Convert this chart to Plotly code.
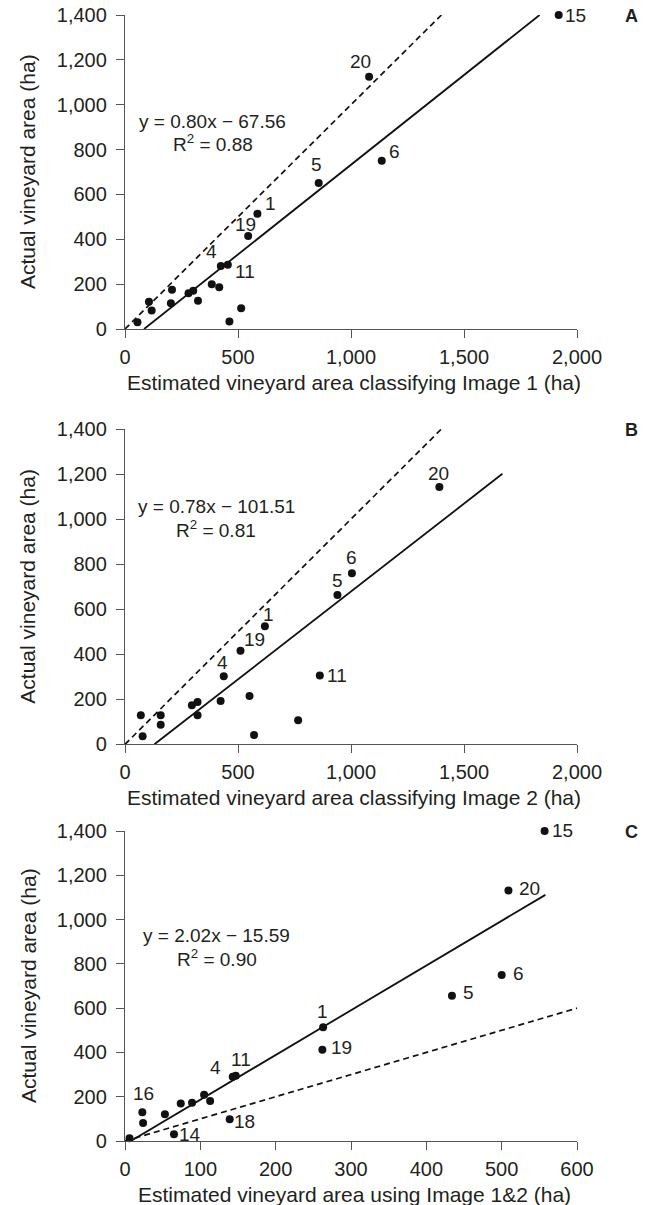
import plotly.graph_objects as go

W, H = 651, 1205

# ---------------- data ----------------
a_x = [55, 106, 118, 208, 203, 281, 302, 323, 384, 417, 424, 455, 462, 514, 545, 586, 857, 1080, 1136, 1919]
a_y = [30, 122, 83, 175, 115, 159, 171, 126, 200, 186, 281, 287, 33, 92, 415, 514, 651, 1125, 750, 1400]
a_lab = ["", "", "", "", "", "", "", "", "", "", "4", "11", "", "", "19", "1", "5", "20", "6", "15"]

b_x = [70, 78, 158, 158, 296, 321, 321, 423, 437, 551, 571, 511, 619, 766, 862, 940, 1004, 1391, 1673]
b_y = [129, 36, 129, 87, 173, 188, 129, 192, 302, 215, 41, 415, 524, 107, 305, 663, 760, 1142, 1405]
b_lab = ["", "", "", "", "", "", "", "", "4", "", "", "19", "1", "", "11", "5", "6", "20", "15"]

c_x = [6, 23, 24, 53, 74, 89, 105, 113, 65, 139, 143, 147, 263, 262, 434, 500, 509, 557]
c_y = [12, 130, 81, 121, 169, 173, 209, 181, 30, 98, 290, 295, 514, 412, 656, 750, 1131, 1400]
c_lab = ["", "16", "", "", "", "", "", "", "14", "18", "4", "11", "1", "19", "5", "6", "20", "15"]

# regression: slope, intercept
a_fit = (0.80, -67.56)
b_fit = (0.78, -101.51)
c_fit = (2.02, -15.59)
a_eq = ["y = 0.80x − 67.56", "R<sup>2</sup> = 0.88"]
b_eq = ["y = 0.78x − 101.51", "R<sup>2</sup> = 0.81"]
c_eq = ["y = 2.02x − 15.59", "R<sup>2</sup> = 0.90"]

x_ticks_ab = [0, 500, 1000, 1500, 2000]
x_ticks_c = [0, 100, 200, 300, 400, 500, 600]
y_ticks = [0, 200, 400, 600, 800, 1000, 1200, 1400]

x_titles = ["Estimated vineyard area classifying Image 1 (ha)",
            "Estimated vineyard area classifying Image 2 (ha)",
            "Estimated vineyard area using Image 1&2 (ha)"]
y_title = "Actual vineyard area (ha)"
panel_letters = ["A", "B", "C"]

# ---------------- style / layout ----------------
FONT = "Liberation Sans, Arial, Helvetica, sans-serif"
TXT = "#231f20"
AXC = "#555555"

# pixel label offsets (dx right, dy up) keyed by label text, per panel
a_off = {"4": (-9, 14), "11": (17, -7), "19": (-3, 11), "1": (13, 10), "5": (-2, 18),
         "20": (-9, 15), "6": (13, 9), "15": (17, -1)}
b_off = {"4": (-1, 14), "19": (14, 11), "1": (4, 12), "11": (17, 0), "5": (0, 14),
         "6": (0, 16), "20": (-1, 14), "15": (-2, 14)}
c_off = {"16": (1, 19), "14": (16, 0), "18": (15, -2), "4": (-17, 9), "11": (5, 16),
         "1": (-1, 16), "19": (19, 2), "5": (17, 3), "6": (17, 1), "20": (21, 2), "15": (18, 1)}

px_left, px_right = 125, 577
panels_px = [(15, 329), (429, 744.3), (831, 1141)]  # top, bottom in px
fit_end = [None, 1670, 558]


def py(p):
    return 1 - p / H


def pxx(p):
    return p / W


fig = go.Figure()
annotations = []

panels = [
    (a_x, a_y, a_lab, a_fit, a_eq, a_off, [0, 2000], x_ticks_ab, 1400, (389, 923, 829)),
    (b_x, b_y, b_lab, b_fit, b_eq, b_off, [0, 2000], x_ticks_ab, 1400, (403, 1056, 957)),
    (c_x, c_y, c_lab, c_fit, c_eq, c_off, [0, 600], x_ticks_c, 600, (122, 926, 825)),
]

for i, (xs, ys, labs, fit, eq, off, xr, xt, dash_end, eqpos) in enumerate(panels):
    n = "" if i == 0 else str(i + 1)
    xa, ya = "x" + n, "y" + n
    m, b = fit
    x0 = -b / m
    x1 = fit_end[i] if fit_end[i] else (1400 - b) / m
    # 1:1 dashed line
    fig.add_trace(go.Scatter(x=[0, dash_end], y=[0, dash_end], mode="lines", xaxis=xa, yaxis=ya,
                             line=dict(color="#111111", width=1.7, dash="6px,4px"),
                             showlegend=False, hoverinfo="skip"))
    # fitted line
    fig.add_trace(go.Scatter(x=[x0, x1], y=[m * x0 + b, m * x1 + b], mode="lines", xaxis=xa, yaxis=ya,
                             line=dict(color="#111111", width=1.8),
                             showlegend=False, hoverinfo="skip"))
    # points
    fig.add_trace(go.Scatter(x=xs, y=ys, mode="markers", xaxis=xa, yaxis=ya,
                             marker=dict(color="#111111", size=8),
                             cliponaxis=False, showlegend=False))
    # point labels
    for xv, yv, lab in zip(xs, ys, labs):
        if lab:
            dx, dy = off[lab]
            annotations.append(dict(x=xv, y=yv, xref=xa, yref=ya, text=lab, showarrow=False,
                                    xshift=dx, yshift=dy, xanchor="center", yanchor="middle",
                                    font=dict(size=19, color=TXT, family=FONT)))
    # equation
    ex, ey1, ey2 = eqpos
    annotations.append(dict(x=ex, y=ey1, xref=xa, yref=ya, text=eq[0], showarrow=False,
                            xanchor="center", font=dict(size=19, color=TXT, family=FONT)))
    annotations.append(dict(x=ex, y=ey2, xref=xa, yref=ya, text=eq[1], showarrow=False,
                            xanchor="center", font=dict(size=19, color=TXT, family=FONT)))

    top, bot = panels_px[i]
    axis_common = dict(showline=True, linecolor=AXC, linewidth=1.3, ticks="outside", ticklen=8,
                       tickcolor=AXC, tickwidth=1.3, showgrid=False, zeroline=False,
                       tickfont=dict(size=20, color=TXT, family=FONT), tickformat=",d",
                       automargin=False)
    fig.update_layout(**{
        "xaxis" + n: dict(domain=[pxx(px_left), pxx(px_right)], range=xr, tickvals=xt,
                          anchor=ya, ticklabelstandoff=2, **axis_common),
        "yaxis" + n: dict(domain=[py(bot), py(top)], range=[0, 1400], tickvals=y_ticks,
                          anchor=xa, ticklabelstandoff=5, **axis_common),
    })
    # axis titles
    annotations.append(dict(x=pxx((px_left + px_right) / 2 + 3), y=py(bot + 53), xref="paper", yref="paper",
                            text=x_titles[i], showarrow=False, xanchor="center", yanchor="middle",
                            font=dict(size=21, color=TXT, family=FONT)))
    annotations.append(dict(x=pxx(28), y=py((top + bot) / 2), xref="paper", yref="paper",
                            text=y_title, showarrow=False, textangle=-90,
                            xanchor="center", yanchor="middle",
                            font=dict(size=21, color=TXT, family=FONT)))
    # panel letter
    annotations.append(dict(x=pxx(631), y=py(top + 1), xref="paper", yref="paper",
                            text="<b>" + panel_letters[i] + "</b>", showarrow=False,
                            xanchor="center", yanchor="middle",
                            font=dict(size=18, color=TXT, family=FONT)))

fig.update_layout(width=W, height=H, margin=dict(l=0, r=0, t=0, b=0, pad=0),
                  plot_bgcolor="white", paper_bgcolor="white",
                  annotations=annotations, showlegend=False,
                  font=dict(family=FONT, color=TXT))

fig.write_html("out.html", config={"displayModeBar": False},
               post_script="document.body.style.margin='0';document.body.style.padding='0';"
                           "document.body.style.overflow='hidden';")
